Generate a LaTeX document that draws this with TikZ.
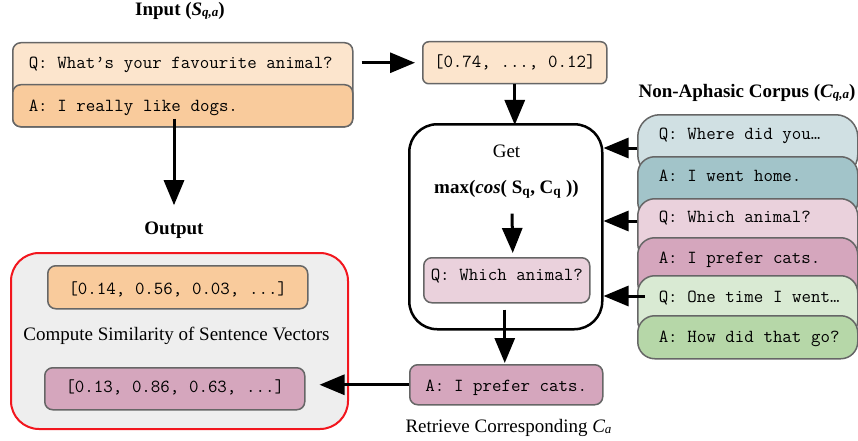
\documentclass[tikz,border=0pt]{standalone}
\usepackage{fontspec}
\setmainfont{Liberation Serif}
\usetikzlibrary{arrows.meta,calc}
\definecolor{bord}{HTML}{666666}
\definecolor{peachL}{HTML}{FCE5CD}
\definecolor{peach}{HTML}{F9CB9C}
\definecolor{blueL}{HTML}{D0E0E3}
\definecolor{blueD}{HTML}{A2C4C9}
\definecolor{pinkL}{HTML}{EAD1DC}
\definecolor{pinkD}{HTML}{D5A6BD}
\definecolor{greenL}{HTML}{D9EAD3}
\definecolor{greenD}{HTML}{B6D7A8}
\definecolor{outfill}{HTML}{EEEEEE}
\definecolor{outred}{HTML}{F2161E}
\newcommand\lowsub[1]{\raisebox{-1.5pt}{\fontsize{13}{13}\selectfont #1}}
\begin{document}
\begin{tikzpicture}[x=1pt,y=-1pt,
  mono/.style={font=\fontsize{18.4}{20}\selectfont\ttfamily,
    execute at begin node={\spaceskip=9.66pt\xspaceskip=9.66pt\relax}},
  serif/.style={font=\fontsize{19}{22}\selectfont, inner sep=0pt, anchor=base},
  tbox/.style={draw=bord, line width=1.5pt, rounded corners=8pt, mono, inner ysep=0pt, anchor=north west},
  lbox/.style={tbox, align=left, inner xsep=16pt},
  cbox/.style={tbox, align=left, inner xsep=10.5pt, text width=199pt, rounded corners=17pt,
    execute at begin node={\spaceskip=9.66pt\xspaceskip=9.66pt\relax\hspace*{10.5pt}}},
  arr/.style={line width=3pt, -{Triangle[length=25pt,width=20pt]}}
]
\useasboundingbox (0,0) rectangle (858,441);

% ---------- Input ----------
\node[serif] (intitle) at (180,15.5) {\textbf{Input (\textit{S\lowsub{q,a}})}};
\node[lbox, fill=peachL, text width=308pt, text height=25.5pt, text depth=58.5pt] (inQ) at (12,42) {Q: What’s your favourite animal?};
\node[lbox, fill=peach, text width=308pt, text height=26.5pt, text depth=15.5pt] (inA) at (12,84) {A: I really like dogs.};

% ---------- vector ----------
\node[tbox, fill=peachL, rounded corners=6pt, minimum width=184pt, minimum height=42pt, inner xsep=0pt] (vec) at (422,41) {[0.74, ..., 0.12]};

% ---------- Get box ----------
\node[draw=black, line width=2.5pt, rounded corners=28pt, minimum width=193pt, minimum height=205pt, anchor=north west] (get) at (408,123) {};
\node[serif] (gett) at (506.5,157.5) {Get};
\node[serif] (maxn) at (506.5,193) {\textbf{max(\textit{cos}( S\textsubscript{q}, C\textsubscript{q} ))}};
\node[tbox, fill=pinkL, text width=166pt, align=center, inner xsep=0pt, text height=22.5pt, text depth=22.5pt] (qin) at (423,257) {Q: Which animal?};

% ---------- retrieved answer ----------
\node[tbox, fill=pinkD, text width=193pt, align=center, inner xsep=0pt, text height=27pt, text depth=13pt] (ansC) at (409,364) {A: I prefer cats.};
\node[serif] (rett) at (508.5,432) {Retrieve Corresponding \textit{C\lowsub{a}}};

% ---------- corpus ----------
\node[serif] (ctitle) at (747,97.5) {\textbf{Non-Aphasic Corpus (\textit{C\lowsub{q,a}})}};
\node[cbox, fill=blueL, rounded corners=22pt, text height=24.5pt, text depth=37.5pt] (c1) at (637,114) {Q: Where did you…};
\node[cbox, fill=blueD, text height=24.5pt, text depth=37.5pt] (c2) at (637,156) {A: I went home.};
\node[cbox, fill=pinkL, text height=23.5pt, text depth=38.5pt] (c3) at (637,198) {Q: Which animal?};
\node[cbox, fill=pinkD, text height=26pt, text depth=36pt] (c4) at (637,237) {A: I prefer cats.};
\node[cbox, fill=greenL, text height=26.5pt, text depth=35.5pt] (c5) at (637,275) {Q: One time I went…};
\node[cbox, fill=greenD, text height=26.5pt, text depth=16.5pt] (c6) at (637,315) {A: How did that go?};

% ---------- Output ----------
\node[serif] (outt) at (174,234) {\textbf{Output}};
\node[draw=outred, line width=2pt, fill=outfill, rounded corners=28pt, minimum width=337pt, minimum height=176pt, anchor=north west] (outb) at (10,252) {};
\node[tbox, fill=peach, text width=260pt, align=center, inner xsep=0pt, text height=29pt, text depth=14pt] (ov1) at (47,265) {[0.14, 0.56, 0.03, ...]};
\node[serif] (compt) at (176.5,340.5) {Compute Similarity of Sentence Vectors};
\node[tbox, fill=pinkD, text width=260pt, align=center, inner xsep=0pt, text height=24.5pt, text depth=17.5pt] (ov2) at (44,367) {[0.13, 0.86, 0.63, ...]};

% ---------- arrow end points ----------
\coordinate (a3s) at ($(inA.south west)+(162,-9)$);
\coordinate (p1) at ($(c1.north west)+(0,34)$);
\coordinate (p3) at ($(c3.north west)+(0,23)$);
\coordinate (p5) at ($(c5.north west)+(8,21)$);

% ---------- arrows ----------
\draw[arr, shorten <=8pt, shorten >=7pt] (vec.west -| inQ.east) -- (vec.west);
\draw[arr] (vec.south) -- ($(vec.south |- get.north)+(0,2)$);
\draw[arr, shorten >=16pt] (a3s) -- (a3s |- outt.north);
\draw[arr] (p1) -- (p1 -| get.east);
\draw[arr] (p3) -- (p3 -| get.east);
\draw[arr] (p5) -- (p5 -| get.east);
\draw[arr] ($(maxn.south)+(5.5,15)$) -- ($(qin.north)+(6,-4)$);
\draw[arr] ($(qin.south)+(-2,6)$) -- ($(qin.south |- ansC.north)+(-2,-1)$);
\draw[arr, shorten >=14pt] (ansC.west) -- (ansC.west -| ov2.east);
\end{tikzpicture}
\end{document}
